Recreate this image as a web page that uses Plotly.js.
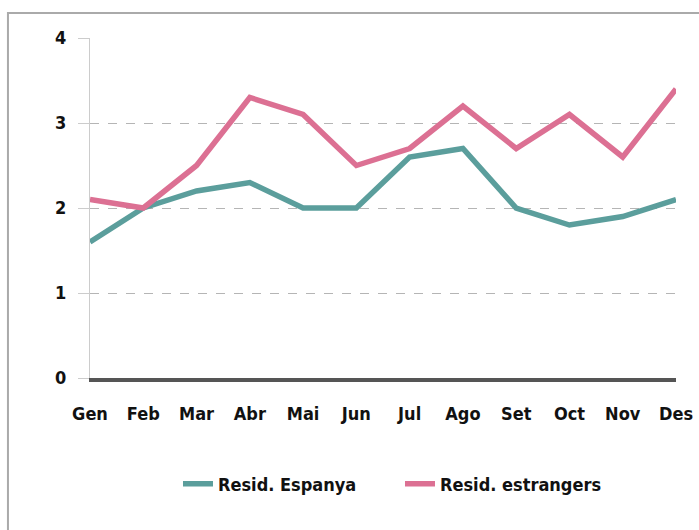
<!DOCTYPE html>
<html>
<head>
<meta charset="utf-8">
<script src="https://cdn.plot.ly/plotly-3.0.1.min.js"></script>
<style>
  html, body { margin: 0; padding: 0; background: white; }
  #chart { width: 699px; height: 530px; }
</style>
</head>
<body>
<div id="chart"></div>
<script>
// Monthly values, residents from Spain vs. foreign residents.
const MONTHS = ['Gen', 'Feb', 'Mar', 'Abr', 'Mai', 'Jun', 'Jul', 'Ago', 'Set', 'Oct', 'Nov', 'Des'];
const ESPANYA = [1.6, 2.0, 2.2, 2.3, 2.0, 2.0, 2.6, 2.7, 2.0, 1.8, 1.9, 2.1];
const ESTRANGERS = [2.1, 2.0, 2.5, 3.3, 3.1, 2.5, 2.7, 3.2, 2.7, 3.1, 2.6, 3.4];
const Y_TICKS = [0, 1, 2, 3, 4];

const TEAL = '#5b9e9c';
const PINK = '#dc7093';
const FONT = '"DejaVu Sans Condensed", "Liberation Sans Narrow", sans-serif';

const traces = [
  {
    x: MONTHS,
    y: ESPANYA,
    mode: 'lines',
    name: 'Resid. Espanya',
    line: { color: TEAL, width: 5.5 },
  },
  {
    x: MONTHS,
    y: ESTRANGERS,
    mode: 'lines',
    name: 'Resid. estrangers',
    line: { color: PINK, width: 5.5 },
  },
];

const layout = {
  width: 699,
  height: 530,
  margin: { l: 90, r: 23, t: 38, b: 152 },
  paper_bgcolor: 'white',
  plot_bgcolor: 'white',
  font: { family: FONT, size: 18, color: '#111' },
  showlegend: true,
  xaxis: {
    type: 'category',
    range: [0, MONTHS.length - 1],
    showgrid: false,
    zeroline: false,
    showline: true,
    linecolor: '#555',
    linewidth: 4,
    ticks: '',
    ticklabelstandoff: 16,
    tickfont: { family: FONT, size: 18, color: '#111', weight: 'bold' },
    fixedrange: true,
  },
  yaxis: {
    range: [0, 4],
    tickvals: Y_TICKS,
    showgrid: true,
    gridcolor: '#b5b5b5',
    griddash: 'dash',
    gridwidth: 1,
    zeroline: false,
    showline: true,
    linecolor: '#cccccc',
    linewidth: 1,
    ticks: 'outside',
    ticklen: 11,
    tickcolor: '#cccccc',
    ticklabelstandoff: 8,
    tickfont: { family: FONT, size: 18, color: '#111', weight: 'bold' },
    fixedrange: true,
  },
  legend: {
    orientation: 'h',
    x: 0.529,
    xanchor: 'center',
    y: -0.312,
    yanchor: 'middle',
    entrywidth: 177,
    font: { family: FONT, size: 18, color: '#111', weight: 'bold' },
  },
  shapes: [
    {
      type: 'rect',
      xref: 'paper',
      yref: 'paper',
      x0: -0.14,
      x1: 1.2,
      y0: -1,
      y1: 1.0735,
      line: { color: '#aaaaaa', width: 2 },
      layer: 'below',
    },
  ],
};

Plotly.newPlot('chart', traces, layout, { displayModeBar: false, staticPlot: true });
</script>
</body>
</html>
